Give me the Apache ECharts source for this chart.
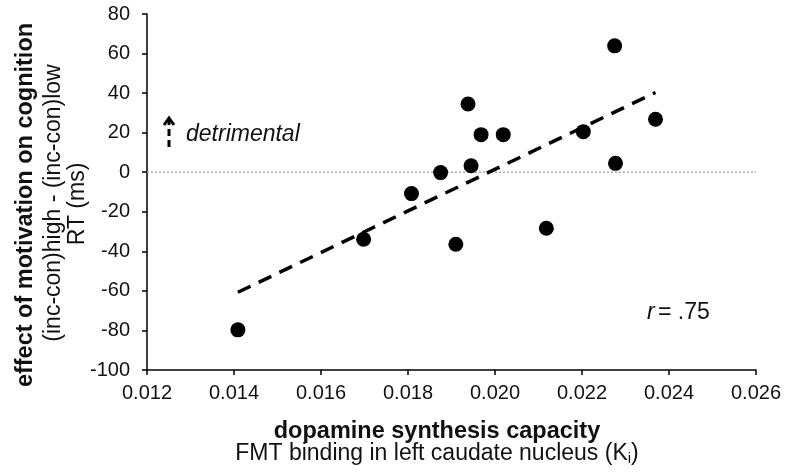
<!DOCTYPE html>
<html>
<head>
<meta charset="utf-8">
<script src="https://cdn.jsdelivr.net/npm/echarts@6/dist/echarts.min.js"></script>
<style>
  html, body { margin: 0; padding: 0; background: #fff; }
  #chart { width: 785px; height: 475px; }
</style>
</head>
<body>
<div id="chart"></div>
<script>
// FMT Ki (left caudate) vs. motivation effect on RT
const kiValues = [0.01409, 0.01698, 0.01808, 0.01875, 0.0191, 0.01938, 0.01945,
                  0.01968, 0.02019, 0.02118, 0.02203, 0.02275, 0.02277, 0.02369];
const rtEffect = [-79.7, -33.9, -10.8, -0.2, -36.4, 34.5, 3.3,
                  19.0, 19.0, -28.3, 20.5, 63.9, 4.5, 26.8];
// regression line end points
const fitX = [0.01409, 0.02369];
const fitY = [-60.7, 40.3];
// horizontal reference at zero
const zeroX = [0.012, 0.026];
const zeroY = [0, 0];

const font = 'Liberation Sans, Arial, sans-serif';

const chart = echarts.init(document.getElementById('chart'));

chart.setOption({
  animation: false,
  grid: { left: 147, right: 29, top: 14, bottom: 105 },
  xAxis: {
    type: 'value',
    min: 0.012, max: 0.026, interval: 0.002,
    axisLine: { onZero: false, lineStyle: { color: '#000', width: 1.5 } },
    axisTick: { show: true, length: 5, lineStyle: { color: '#000', width: 1.5 } },
    splitLine: { show: false },
    axisLabel: {
      color: '#111', fontSize: 20, fontFamily: font, margin: 13,
      formatter: v => v.toFixed(3)
    }
  },
  yAxis: {
    type: 'value',
    min: -100, max: 80, interval: 20,
    axisLine: { show: true, onZero: false, lineStyle: { color: '#000', width: 1.5 } },
    axisTick: { show: true, length: 5, lineStyle: { color: '#000', width: 1.5 } },
    splitLine: { show: false },
    axisLabel: { color: '#111', fontSize: 20, fontFamily: font, margin: 17 }
  },
  series: [
    {
      type: 'line',
      data: zeroX.map((x, i) => [x, zeroY[i]]),
      symbol: 'none',
      lineStyle: { color: '#aaa', width: 1.5, type: [2, 2] },
      z: 1
    },
    {
      type: 'line',
      data: fitX.map((x, i) => [x, fitY[i]]),
      symbol: 'none',
      lineStyle: { color: '#000', width: 3.5, type: [14, 9] },
      z: 2
    },
    {
      type: 'scatter',
      data: kiValues.map((x, i) => [x, rtEffect[i]]),
      symbol: 'circle',
      symbolSize: 15,
      itemStyle: { color: '#000', opacity: 1 },
      z: 3
    }
  ],
  graphic: [
    // y axis title, three lines
    {
      type: 'text', x: 26, y: 205, rotation: Math.PI / 2,
      style: { text: 'effect of motivation on cognition', font: 'bold 23.5px ' + font,
               fill: '#111', align: 'center', verticalAlign: 'middle' }
    },
    {
      type: 'text', x: 54, y: 203, rotation: Math.PI / 2,
      style: { text: '(inc-con)high - (inc-con)low', font: '23px ' + font,
               fill: '#111', align: 'center', verticalAlign: 'middle' }
    },
    {
      type: 'text', x: 78, y: 204, rotation: Math.PI / 2,
      style: { text: 'RT (ms)', font: '23px ' + font,
               fill: '#111', align: 'center', verticalAlign: 'middle' }
    },
    // x axis title
    {
      type: 'text', x: 437, y: 432,
      style: { text: 'dopamine synthesis capacity', font: 'bold 23.5px ' + font,
               fill: '#111', align: 'center', verticalAlign: 'middle' }
    },
    {
      type: 'text', x: 437, y: 454,
      style: {
        text: '{a|FMT binding in left caudate nucleus (K}{s|i}{a|)}',
        align: 'center', verticalAlign: 'middle',
        rich: {
          a: { font: '23px ' + font, fill: '#111' },
          s: { font: '15px ' + font, fill: '#111', padding: [10, 0, 0, 0] }
        }
      }
    },
    // detrimental arrow + label
    {
      type: 'line', shape: { x1: 169, y1: 147, x2: 169, y2: 120 },
      style: { stroke: '#000', lineWidth: 3, lineDash: [7, 4] }
    },
    {
      type: 'polyline', shape: { points: [[164, 125], [169, 118], [174, 125]] },
      style: { stroke: '#000', lineWidth: 3, fill: null }
    },
    {
      type: 'text', x: 186, y: 135,
      style: { text: 'detrimental', font: 'italic 23px ' + font,
               fill: '#111', verticalAlign: 'middle' }
    },
    // correlation
    {
      type: 'text', x: 647, y: 313,
      style: {
        text: '{i|r} {n|= .75}', verticalAlign: 'middle',
        rich: {
          i: { font: 'italic 23px ' + font, fill: '#111' },
          n: { font: '23px ' + font, fill: '#111' }
        }
      }
    }
  ]
});
</script>
</body>
</html>
